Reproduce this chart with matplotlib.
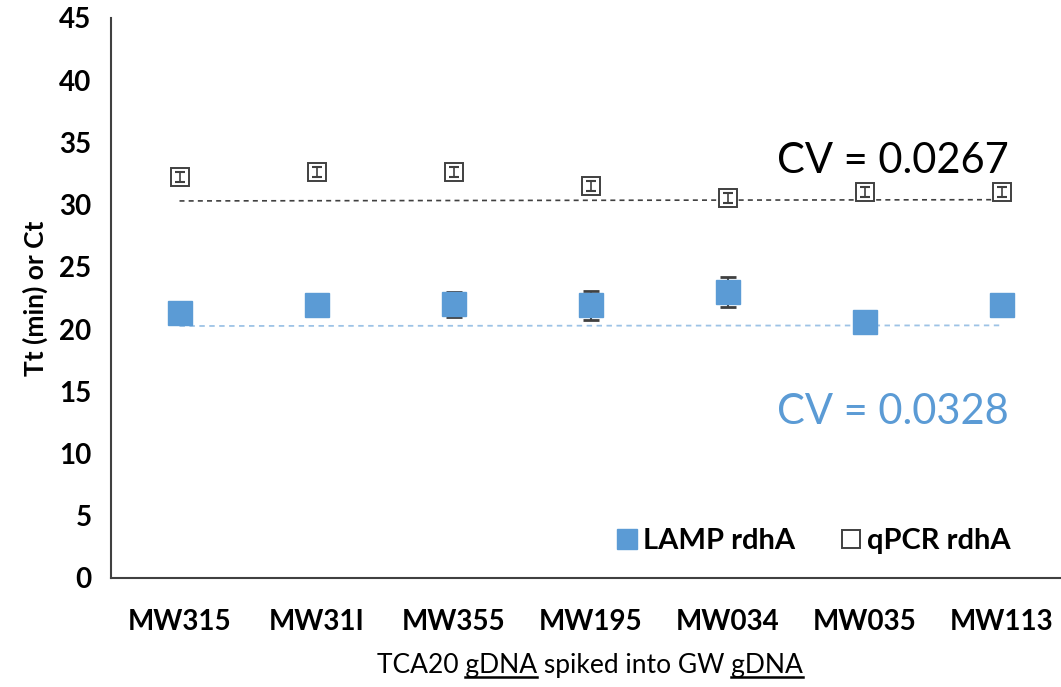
import matplotlib
matplotlib.use('Agg')
import matplotlib.pyplot as plt
import numpy as np

# categories on the x axis
samples = ['MW315', 'MW31I', 'MW355', 'MW195', 'MW034', 'MW035', 'MW113']

# LAMP rdhA: Tt (min), mean and error
lamp_mean = [21.3, 21.9, 22.0, 21.9, 23.0, 20.6, 21.9]
lamp_err = [0.5, 0.6, 1.0, 1.2, 1.2, 0.3, 0.3]

# qPCR rdhA: Ct, mean and error
qpcr_mean = [32.2, 32.6, 32.6, 31.5, 30.5, 31.0, 31.0]
qpcr_err = [0.4, 0.4, 0.4, 0.4, 0.4, 0.4, 0.4]

# dashed reference lines (start, end level)
qpcr_line = [30.3, 30.4]
lamp_line = [20.25, 20.3]

cv_qpcr = 'CV = 0.0267'
cv_lamp = 'CV = 0.0328'

blue = '#5B9BD5'
grey = '#404040'

plt.rcParams['font.family'] = ['Lato', 'DejaVu Sans']

W, H = 1061, 687
fig = plt.figure(figsize=(W / 100, H / 100), dpi=100)
ax = fig.add_axes([111 / W, (H - 578) / H, (1070 - 111) / W, (578 - 18) / H])

x = np.arange(len(samples))

ax.plot([x[0], x[-1]], qpcr_line, ls=(0, (3, 2.5)), color=grey, lw=1.2, zorder=1)
ax.plot([x[0], x[-1]], lamp_line, ls=(0, (3, 2.5)), color='#9DC3E6', lw=1.3, zorder=1)

# markers first, error bars drawn on top of them
ax.plot(x, lamp_mean, 's', ms=17, color=blue, mec=blue, label='LAMP rdhA', zorder=3)
ax.plot(x, qpcr_mean, 's', ms=13, mfc='white', mec=grey, mew=1.4,
        label='qPCR rdhA', zorder=3)
ax.errorbar(x, lamp_mean, yerr=lamp_err, fmt='none', ecolor=grey,
            elinewidth=1.5, capsize=6, capthick=2, zorder=2)
ax.errorbar(x, qpcr_mean, yerr=qpcr_err, fmt='none', ecolor=grey,
            elinewidth=1.2, capsize=3.5, capthick=1.5, zorder=4)

ax.set_xlim(-0.5, len(samples) - 0.5)
ax.set_ylim(0, 45)
ax.set_yticks(np.arange(0, 46, 5))
ax.set_xticks(x)
ax.set_xticklabels(samples, fontsize=20, fontweight='bold')
ax.tick_params(axis='y', labelsize=20, length=0, pad=14)
ax.tick_params(axis='x', length=0, pad=22)
for lab in ax.get_yticklabels():
    lab.set_fontweight('bold')

for s in ['top', 'right']:
    ax.spines[s].set_visible(False)
for s in ['left', 'bottom']:
    ax.spines[s].set_color(grey)
    ax.spines[s].set_linewidth(1.5)

ax.set_ylabel('Tt (min) or Ct', fontsize=19, fontweight='bold', labelpad=8)

ax.text(x[5] + 0.21, 33.8, cv_qpcr, fontsize=30, color='black', ha='center', va='center_baseline')
ax.text(x[5] + 0.21, 13.6, cv_lamp, fontsize=30, color=blue, ha='center', va='center_baseline')

leg = ax.legend(loc='lower right', bbox_to_anchor=(0.965, -0.004), ncol=2, frameon=False,
                prop={'size': 21, 'weight': 'bold'}, handletextpad=0.15,
                columnspacing=1.5, handlelength=0.8)
leg.legend_handles[0].set_markersize(15)
leg.legend_handles[1].set_markersize(13)

# x axis title, with the two "gDNA" words underlined
label = 'TCA20 gDNA spiked into GW gDNA'
fs = 19
cx, cy = 590, H - 665
t = fig.text(cx / W, cy / H, label, fontsize=fs, ha='center', va='center')
fig.canvas.draw()
r = fig.canvas.get_renderer()
bb = t.get_window_extent(r)


def width_of(s):
    tmp = fig.text(0, 0, s, fontsize=fs)
    w = tmp.get_window_extent(r).width
    tmp.remove()
    return w


for pre in ['TCA20 ', 'TCA20 gDNA spiked into GW ']:
    x0 = bb.x0 + width_of(pre)
    x1 = x0 + width_of('gDNA')
    fig.add_artist(plt.Line2D([x0 / W, x1 / W], [(bb.y0 + 1) / H, (bb.y0 + 1) / H],
                              transform=fig.transFigure, color='black', lw=1.8))

fig.savefig('out.png', dpi=100)
